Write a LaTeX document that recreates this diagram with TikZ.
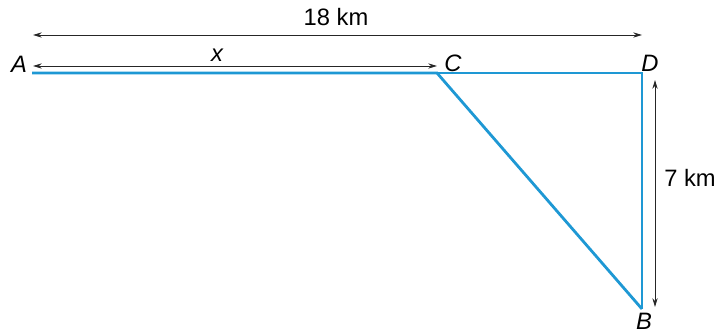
\documentclass[tikz,border=0pt]{standalone}
\usepackage{fontspec}
\setmainfont{Liberation Sans}
\usetikzlibrary{arrows.meta}
\begin{document}
\begin{tikzpicture}[x=0.02cm, y=-0.02cm,
    every node/.style={font=\fontsize{13.5}{15}\selectfont},
    dimline/.style={draw=black!85, line width=0.5pt, {Stealth[length=5pt,width=3pt]}-{Stealth[length=5pt,width=3pt]}},
    roadthick/.style={draw=routeblue, line width=1.6pt, line join=miter},
    roadthin/.style={draw=routeblue, line width=0.7pt}]
    \definecolor{routeblue}{RGB}{30,152,212}
    \useasboundingbox (0,0) rectangle (716,330);

    % Points du triangle.
    \coordinate (A) at (32,73);
    \coordinate (C) at (437,73);
    \coordinate (D) at (642,73);
    \coordinate (B) at (642,309);

    % Trajet en bleu.
    \draw[roadthin] (C) -- (D) -- (B);
    \draw[roadthick] (A) -- (C) -- (B);

    % Cotes.
    \coordinate (topL) at (33,35);
    \coordinate (topR) at (642,35);
    \coordinate (xL) at (33,66);
    \coordinate (xR) at (437,66);
    \coordinate (sideT) at (655,80);
    \coordinate (sideB) at (655,307);
    \draw[dimline] (topL) -- (topR);
    \draw[dimline] (xL) -- (xR);
    \draw[dimline] (sideT) -- (sideB);

    \node (lbltop) at (336,17) {18 km};
    \node (lblx) at (217,55) {\itshape x};
    \node (lblside) at (690,178) {7 km};
    \node (lblA) at (19,64) {\itshape A};
    \node (lblC) at (453,63) {\itshape C};
    \node (lblD) at (650,63) {\itshape D};
    \node (lblB) at (644,321) {\itshape B};
\end{tikzpicture}
\end{document}
